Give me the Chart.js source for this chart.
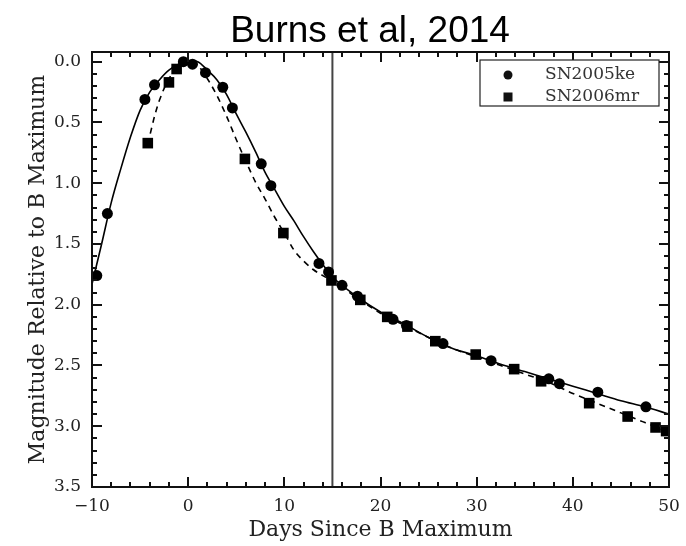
<!DOCTYPE html>
<html>
<head>
<meta charset="utf-8">
<script src="https://cdn.jsdelivr.net/npm/chart.js@4.4.1/dist/chart.umd.min.js"></script>
<style>
  html, body { margin: 0; padding: 0; background: #fff; }
</style>
</head>
<body>
<canvas id="lc" width="686" height="546"></canvas>
<script>
// SN2005ke, B band (days since B max / mag relative to B max)
const keDays = [-9.5, -8.4, -4.5, -3.5, -0.5, 0.45, 1.8, 3.6, 4.6, 7.6, 8.6, 13.6, 14.6, 16.0, 17.6, 21.3, 22.7, 26.5, 31.5, 37.5, 38.6, 42.6, 47.6]
const keMag = [1.76, 1.25, 0.31, 0.19, 0.0, 0.02, 0.09, 0.21, 0.38, 0.84, 1.02, 1.66, 1.73, 1.84, 1.93, 2.12, 2.17, 2.32, 2.46, 2.61, 2.65, 2.72, 2.84]

// SN2006mr, B band
const mrDays = [-4.2, -2.0, -1.2, 5.9, 9.9, 14.9, 17.9, 20.7, 22.8, 25.7, 29.9, 33.9, 36.7, 41.7, 45.7, 48.6, 49.7]
const mrMag = [0.67, 0.17, 0.06, 0.80, 1.41, 1.80, 1.96, 2.10, 2.18, 2.30, 2.41, 2.53, 2.63, 2.81, 2.92, 3.01, 3.04]

// template fits
const keFitDays = [-10, -9, -8, -7, -6, -5, -4, -3, -2, -1, 0, 1, 2, 3, 4, 5, 6, 7, 8, 9, 10, 11, 12, 13, 14, 15, 17.5, 20, 22.5, 25, 27.5, 30, 32.5, 35, 37.5, 40, 42.5, 45, 47.5, 50]
const keFitMag = [1.83, 1.50, 1.16, 0.88, 0.62, 0.40, 0.25, 0.15, 0.07, 0.02, -0.01, 0.0, 0.07, 0.15, 0.27, 0.43, 0.58, 0.74, 0.91, 1.05, 1.19, 1.31, 1.44, 1.56, 1.67, 1.77, 1.93, 2.06, 2.16, 2.27, 2.36, 2.42, 2.49, 2.55, 2.61, 2.67, 2.73, 2.79, 2.84, 2.90]

const mrFitDays = [-4.2, -3.5, -3, -2, -1, 0, 1, 2, 3, 4, 5, 6, 7, 8, 9, 10, 11, 12, 13, 14, 15, 17.5, 20, 22.5, 25, 27.5, 30, 32.5, 35, 37.5, 40, 42.5, 45, 47.5, 50]
const mrFitMag = [0.68, 0.45, 0.32, 0.14, 0.04, 0.0, 0.03, 0.14, 0.28, 0.45, 0.64, 0.82, 0.99, 1.13, 1.28, 1.41, 1.55, 1.64, 1.71, 1.76, 1.80, 1.94, 2.07, 2.17, 2.27, 2.36, 2.43, 2.50, 2.57, 2.64, 2.73, 2.81, 2.89, 2.97, 3.05]

const xTicks = [-10, 0, 10, 20, 30, 40, 50]
const yTicks = [0.0, 0.5, 1.0, 1.5, 2.0, 2.5, 3.0, 3.5]
const xRange = [-10, 50]
const yRange = [-0.08, 3.5]
const cutDay = 15

const pts = (xs, ys) => xs.map((d, i) => ({ x: d, y: ys[i] }))
const serif = 'DejaVu Serif'

// inward ticks on all four sides + black frame
const frame = {
  id: 'frame',
  afterDatasetsDraw(chart) {
    const { ctx, chartArea: a, scales: { x, y } } = chart
    ctx.save()
    ctx.strokeStyle = '#111'
    ctx.lineWidth = 2
    ctx.beginPath()
    for (let d = xRange[0]; d <= xRange[1]; d += 2) {
      const px = Math.round(x.getPixelForValue(d))
      const len = d % 10 === 0 ? 10 : 5
      ctx.moveTo(px, a.bottom); ctx.lineTo(px, a.bottom - len)
      ctx.moveTo(px, a.top); ctx.lineTo(px, a.top + len)
    }
    for (let i = 0; i <= 35; i++) {
      const py = Math.round(y.getPixelForValue(i / 10))
      const len = i % 5 === 0 ? 10 : 5
      ctx.moveTo(a.left, py); ctx.lineTo(a.left + len, py)
      ctx.moveTo(a.right, py); ctx.lineTo(a.right - len, py)
    }
    ctx.stroke()
    ctx.lineWidth = 2
    ctx.strokeRect(a.left, a.top, a.right - a.left, a.bottom - a.top)
    ctx.restore()
  }
}

// legend box in the upper right corner + figure title
const legendBox = {
  id: 'legendBox',
  afterDraw(chart) {
    const { ctx, chartArea: a } = chart
    const ds = chart.data.datasets
    ctx.save()
    const bx = 480, by = 60, bw = a.right - 10 - bx, bh = 46
    ctx.fillStyle = '#fff'
    ctx.strokeStyle = '#222'
    ctx.lineWidth = 1.2
    ctx.fillRect(bx, by, bw, bh)
    ctx.strokeRect(bx, by, bw, bh)
    ctx.fillStyle = '#111'
    ctx.font = '17px ' + serif
    ctx.textBaseline = 'middle'
    const rows = [by + 15, by + 37]
    ctx.beginPath(); ctx.arc(508, rows[0], 4.5, 0, Math.PI * 2); ctx.fill()
    ctx.fillRect(503.5, rows[1] - 4.5, 9, 9)
    ctx.fillStyle = '#333'
    ctx.fillText(ds[0].label, 545, rows[0])
    ctx.fillText(ds[1].label, 545, rows[1])

    ctx.fillStyle = '#000'
    ctx.font = '37px "Liberation Sans"'
    ctx.textAlign = 'center'
    ctx.textBaseline = 'alphabetic'
    ctx.fillText('Burns et al, 2014', 370, 42)
    ctx.restore()
  }
}

new Chart(document.getElementById('lc'), {
  type: 'scatter',
  data: {
    datasets: [
      {
        label: 'SN2005ke',
        data: pts(keDays, keMag),
        pointStyle: 'circle',
        pointRadius: 5.5,
        backgroundColor: '#000',
        borderColor: '#000',
        borderWidth: 0,
        order: 0
      },
      {
        label: 'SN2006mr',
        data: pts(mrDays, mrMag),
        pointStyle: 'rect',
        pointRadius: 7.5,
        backgroundColor: '#000',
        borderColor: '#000',
        borderWidth: 0,
        order: 0
      },
      {
        label: 'fit ke',
        data: pts(keFitDays, keFitMag),
        showLine: true,
        pointRadius: 0,
        borderColor: '#000',
        borderWidth: 1.6,
        cubicInterpolationMode: 'monotone',
        order: 2
      },
      {
        label: 'fit mr',
        data: pts(mrFitDays, mrFitMag),
        showLine: true,
        pointRadius: 0,
        borderColor: '#000',
        borderWidth: 1.6,
        borderDash: [6, 5],
        cubicInterpolationMode: 'monotone',
        order: 2
      },
      {
        label: 'day 15',
        data: [{ x: cutDay, y: yRange[0] }, { x: cutDay, y: yRange[1] }],
        showLine: true,
        pointRadius: 0,
        borderColor: '#444',
        borderWidth: 2,
        order: 3
      }
    ]
  },
  options: {
    responsive: false,
    animation: false,
    devicePixelRatio: 1,
    layout: { padding: { top: 52, right: 17, left: 0, bottom: 0 } },
    plugins: {
      legend: { display: false },
      tooltip: { enabled: false }
    },
    scales: {
      x: {
        type: 'linear',
        min: xRange[0],
        max: xRange[1],
        grid: { display: false, drawTicks: false },
        border: { display: false },
        afterBuildTicks: s => { s.ticks = xTicks.map(v => ({ value: v })) },
        afterFit: s => { s.height = 59; s.paddingLeft = 0; s.paddingRight = 0 },
        ticks: {
          padding: 9,
          color: '#222',
          font: { family: serif, size: 17 },
          callback: v => (v < 0 ? '\u2212' + Math.abs(v) : String(v))
        },
        title: {
          display: true,
          text: 'Days Since B Maximum',
          color: '#222',
          font: { family: serif, size: 22 },
          padding: { top: 0, bottom: 3 }
        }
      },
      y: {
        type: 'linear',
        reverse: true,
        min: yRange[0],
        max: yRange[1],
        grid: { display: false, drawTicks: false },
        border: { display: false },
        afterBuildTicks: s => { s.ticks = yTicks.map(v => ({ value: v })) },
        afterFit: s => { s.width = 92; s.paddingTop = 0; s.paddingBottom = 0 },
        ticks: {
          padding: 11,
          color: '#222',
          font: { family: serif, size: 17 },
          callback: v => v.toFixed(1)
        },
        title: {
          display: true,
          text: 'Magnitude Relative to B Maximum',
          color: '#222',
          font: { family: serif, size: 22 },
          padding: { top: 25, bottom: 0 }
        }
      }
    }
  },
  plugins: [frame, legendBox]
})
</script>
</body>
</html>
